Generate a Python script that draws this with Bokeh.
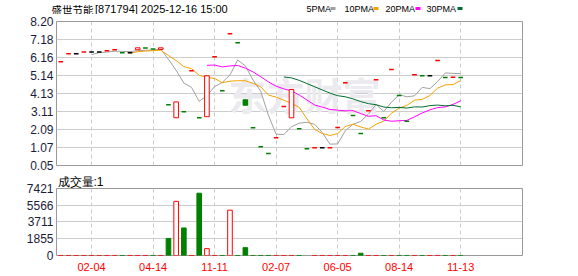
from bokeh.plotting import figure
from bokeh.layouts import column
from bokeh.models import Range1d, FixedTicker, Label, ColumnDataSource, PrintfTickFormatter
from bokeh.core.properties import value
from bokeh.embed import file_html
from bokeh.resources import INLINE
import pandas as pd

# ---------------- data ----------------
title_name = "盛世节能"
title_rest = "[871794] 2025-12-16 15:00"
vol_title = "成交量:1"
tick_idx = [4, 12, 20, 28, 36, 44, 52]
tick_labels = ["02-04", "04-14", "11-11", "02-07", "06-05", "08-14", "11-13"]

opens = [5.92, 6.37, 6.37, 6.48, 6.48, 6.48, 6.55, 6.60, 6.43, 6.43,
         6.60, 6.70, 6.65, 6.62, 3.49, 2.75, 3.09, 5.41, 2.75, 2.81,
         6.20, 4.28, 7.50, 7.00, 3.77, 2.18, 1.11, 0.73, 1.62, 3.39,
         2.75, 2.13, 1.00, 1.05, 1.05, 1.06, 2.20, 4.73, 2.88, 1.86,
         3.15, 4.90, 2.75, 5.48, 4.01, 2.55, 5.18, 5.13, 5.13, 5.99,
         5.03, 5.04, 5.03]
closes = [5.92, 6.37, 6.37, 6.48, 6.48, 6.48, 6.55, 6.60, 6.43, 6.43,
          6.71, 6.70, 6.65, 6.71, 3.49, 3.65, 3.09, 5.41, 2.75, 5.13,
          6.20, 4.28, 7.50, 7.00, 3.46, 2.18, 1.11, 0.73, 1.62, 3.39,
          4.35, 2.13, 1.00, 1.05, 1.05, 1.06, 2.20, 4.73, 2.88, 1.86,
          3.15, 4.90, 2.75, 5.48, 4.01, 2.55, 5.18, 5.13, 5.13, 5.99,
          5.03, 5.04, 5.03]
# candle colour: r = up, g = down, k = unchanged
kinds = ["r", "r", "k", "r", "k", "k", "r", "r", "g", "k",
         "r", "g", "g", "r", "g", "r", "g", "r", "g", "r",
         "r", "g", "r", "g", "g", "g", "g", "g", "r", "r",
         "r", "g", "g", "r", "k", "r", "r", "r", "g", "g",
         "r", "r", "g", "r", "g", "g", "r", "g", "k", "r",
         "g", "r", "g"]
volumes = [3, 2, 2, 4, 1, 2, 3, 2, 2, 1,
           3, 2, 2, 3, 1890, 6000, 3050, 3, 6900, 760,
           3, 2, 5020, 2, 870, 3, 2, 2, 3, 2,
           3, 2, 0, 2, 3, 2, 3, 2, 3, 250,
           3, 2, 2, 3, 2, 3, 2, 3, 2, 3,
           2, 2, 1]
vol_kinds = ["r", "r", "r", "r", "r", "r", "r", "r", "g", "r",
             "r", "r", "g", "r", "g", "r", "g", "r", "g", "r",
             "r", "g", "r", "g", "g", "g", "g", "g", "r", "r",
             "r", "g", "g", "r", "r", "r", "r", "r", "g", "g",
             "r", "r", "g", "r", "g", "g", "r", "g", "r", "r",
             "g", "r", "g"]
ma_periods = [5, 10, 20, 30]
ma_names = ["5PMA", "10PMA", "20PMA", "30PMA"]
ma_colors = ["#a0a0a0", "#f5a000", "#ff00ff", "#006e2e"]
y_ticks = [0.05, 1.07, 2.09, 3.11, 4.13, 5.14, 6.16, 7.18, 8.20]
v_ticks = [0, 1855, 3711, 5566, 7421]

RED = "#ff0000"
GREEN = "#008000"
BLACK = "#000000"
cmap = {"r": RED, "g": GREEN, "k": BLACK}

n = len(closes)
xs = list(range(n))

# ---------------- header strip ----------------
h1 = figure(width=578, height=14, x_range=Range1d(0, 578), y_range=Range1d(14, 0),
            output_backend="svg", toolbar_location=None, x_axis_location=None,
            y_axis_location=None, min_border=0)
h1.frame_align = False
h1.outline_line_color = None
h1.grid.visible = False
h1.text(x=[51], y=[8.5], text=[title_name], text_font=value("Noto Sans CJK SC"),
        text_font_size="10.5px", text_baseline="middle", text_color="#000000")
h1.text(x=[94.5], y=[8.5], text=[title_rest], text_font=value("Liberation Sans"),
        text_font_size="11px", text_baseline="middle", text_color="#000000")
leg_x = [306, 344, 385, 426]
sq_x = [332.5, 375.5, 417.5, 459.5]
h1.text(x=leg_x, y=[8.5] * 4, text=ma_names, text_font=value("Liberation Sans"),
        text_font_size="9px", text_baseline="middle", text_color="#000000")
h1.rect(x=sq_x, y=[8] * 4, width=5, height=3, fill_color=ma_colors, line_color=None)

# ---------------- price figure ----------------
p1 = figure(width=578, height=158, x_range=Range1d(-0.56, 60.04), y_range=Range1d(0.05, 8.20),
            output_backend="svg", toolbar_location=None, x_axis_location=None,
            min_border_left=56, min_border_right=56, min_border_top=7, min_border_bottom=7)
p1.frame_align = False
p1.outline_line_color = "#999999"
p1.yaxis.ticker = FixedTicker(ticks=y_ticks)
p1.yaxis.formatter = PrintfTickFormatter(format="%.2f")
p1.yaxis.axis_line_color = None
p1.yaxis.major_tick_line_color = None
p1.yaxis.major_tick_out = 0
p1.yaxis.minor_tick_line_color = None
p1.yaxis.major_label_standoff = 3
p1.yaxis.major_label_text_font = "Liberation Sans"
p1.yaxis.major_label_text_font_size = "12px"
p1.yaxis.major_label_text_color = "#1c1c3a"
p1.ygrid.ticker = FixedTicker(ticks=y_ticks)
p1.ygrid.grid_line_color = "#cccccc"
p1.xgrid.ticker = FixedTicker(ticks=tick_idx)
p1.xgrid.grid_line_color = "#cccccc"
p1.xgrid.grid_line_dash = "4 3"

wm = Label(x=172, y=72, x_units="screen", y_units="screen", text="东方财富",
           text_font="Noto Sans CJK SC", text_font_size="38px", text_font_style="bold",
           text_color="#ebebef", text_baseline="middle", level="underlay")
p1.add_layout(wm)

# moving averages
cs = pd.Series(closes)
for per, col in zip(ma_periods, ma_colors):
    p1.line(xs, cs.rolling(per).mean().tolist(), line_color=col, line_width=1)

# candles
body = dict(x=[], top=[], bottom=[], lc=[], fc=[])
doji = dict(x0=[], x1=[], y=[], lc=[])
for i in range(n):
    o, c, k = opens[i], closes[i], kinds[i]
    if abs(o - c) < 1e-9:
        doji["x0"].append(i - 0.3)
        doji["x1"].append(i + 0.3)
        doji["y"].append(c)
        doji["lc"].append(cmap[k])
    else:
        body["x"].append(i)
        body["top"].append(max(o, c))
        body["bottom"].append(min(o, c))
        body["lc"].append(cmap[k])
        body["fc"].append("#ffffff" if k == "r" else cmap[k])
p1.segment(x0="x0", x1="x1", y0="y", y1="y", line_color="lc", line_width=1.5,
           source=ColumnDataSource(doji))
p1.vbar(x="x", top="top", bottom="bottom", width=0.6, line_color="lc", fill_color="fc",
        line_width=1, source=ColumnDataSource(body))

# ---------------- volume figure ----------------
p2 = figure(width=578, height=104, x_range=p1.x_range, y_range=Range1d(0, 7421),
            output_backend="svg", toolbar_location=None,
            min_border_left=56, min_border_right=56, min_border_top=14, min_border_bottom=21)
p2.frame_align = False
p2.title.text = vol_title
p2.title.text_font = "Liberation Sans"
p2.title.text_font_size = "12px"
p2.title.text_font_style = "normal"
p2.title.text_color = "#000000"
p2.title.align = "left"
p2.title.offset = 1
p2.title.standoff = 0
p2.outline_line_color = "#999999"
p2.yaxis.ticker = FixedTicker(ticks=v_ticks)
p2.yaxis.axis_line_color = None
p2.yaxis.major_tick_line_color = None
p2.yaxis.major_tick_out = 0
p2.yaxis.minor_tick_line_color = None
p2.yaxis.major_label_standoff = 3
p2.yaxis.major_label_text_font = "Liberation Sans"
p2.yaxis.major_label_text_font_size = "12px"
p2.yaxis.major_label_text_color = "#1c1c3a"
p2.ygrid.ticker = FixedTicker(ticks=v_ticks)
p2.ygrid.grid_line_color = "#cccccc"
p2.xgrid.ticker = FixedTicker(ticks=tick_idx)
p2.xgrid.grid_line_color = "#cccccc"
p2.xgrid.grid_line_dash = "4 3"
p2.xaxis.ticker = FixedTicker(ticks=tick_idx)
p2.xaxis.major_label_overrides = {t: l for t, l in zip(tick_idx, tick_labels)}
p2.xaxis.axis_line_color = None
p2.xaxis.major_tick_line_color = None
p2.xaxis.major_tick_out = 0
p2.xaxis.minor_tick_line_color = None
p2.xaxis.major_label_standoff = 7
p2.xaxis.major_label_text_font = "Liberation Sans"
p2.xaxis.major_label_text_font_size = "11px"
p2.xaxis.major_label_text_color = RED

vol = dict(x=[], top=[], lc=[], fc=[])
for i in range(n):
    if volumes[i] <= 0:
        continue
    vol["x"].append(i)
    vol["top"].append(volumes[i])
    vol["lc"].append(cmap[vol_kinds[i]])
    vol["fc"].append("#ffffff" if vol_kinds[i] == "r" else cmap[vol_kinds[i]])
p2.vbar(x="x", top="top", bottom=0, width=0.6, line_color="lc", fill_color="fc",
        line_width=1, source=ColumnDataSource(vol))

layout = column(h1, p1, p2, spacing=0)
open("out.html", "w").write(file_html(layout, INLINE))
